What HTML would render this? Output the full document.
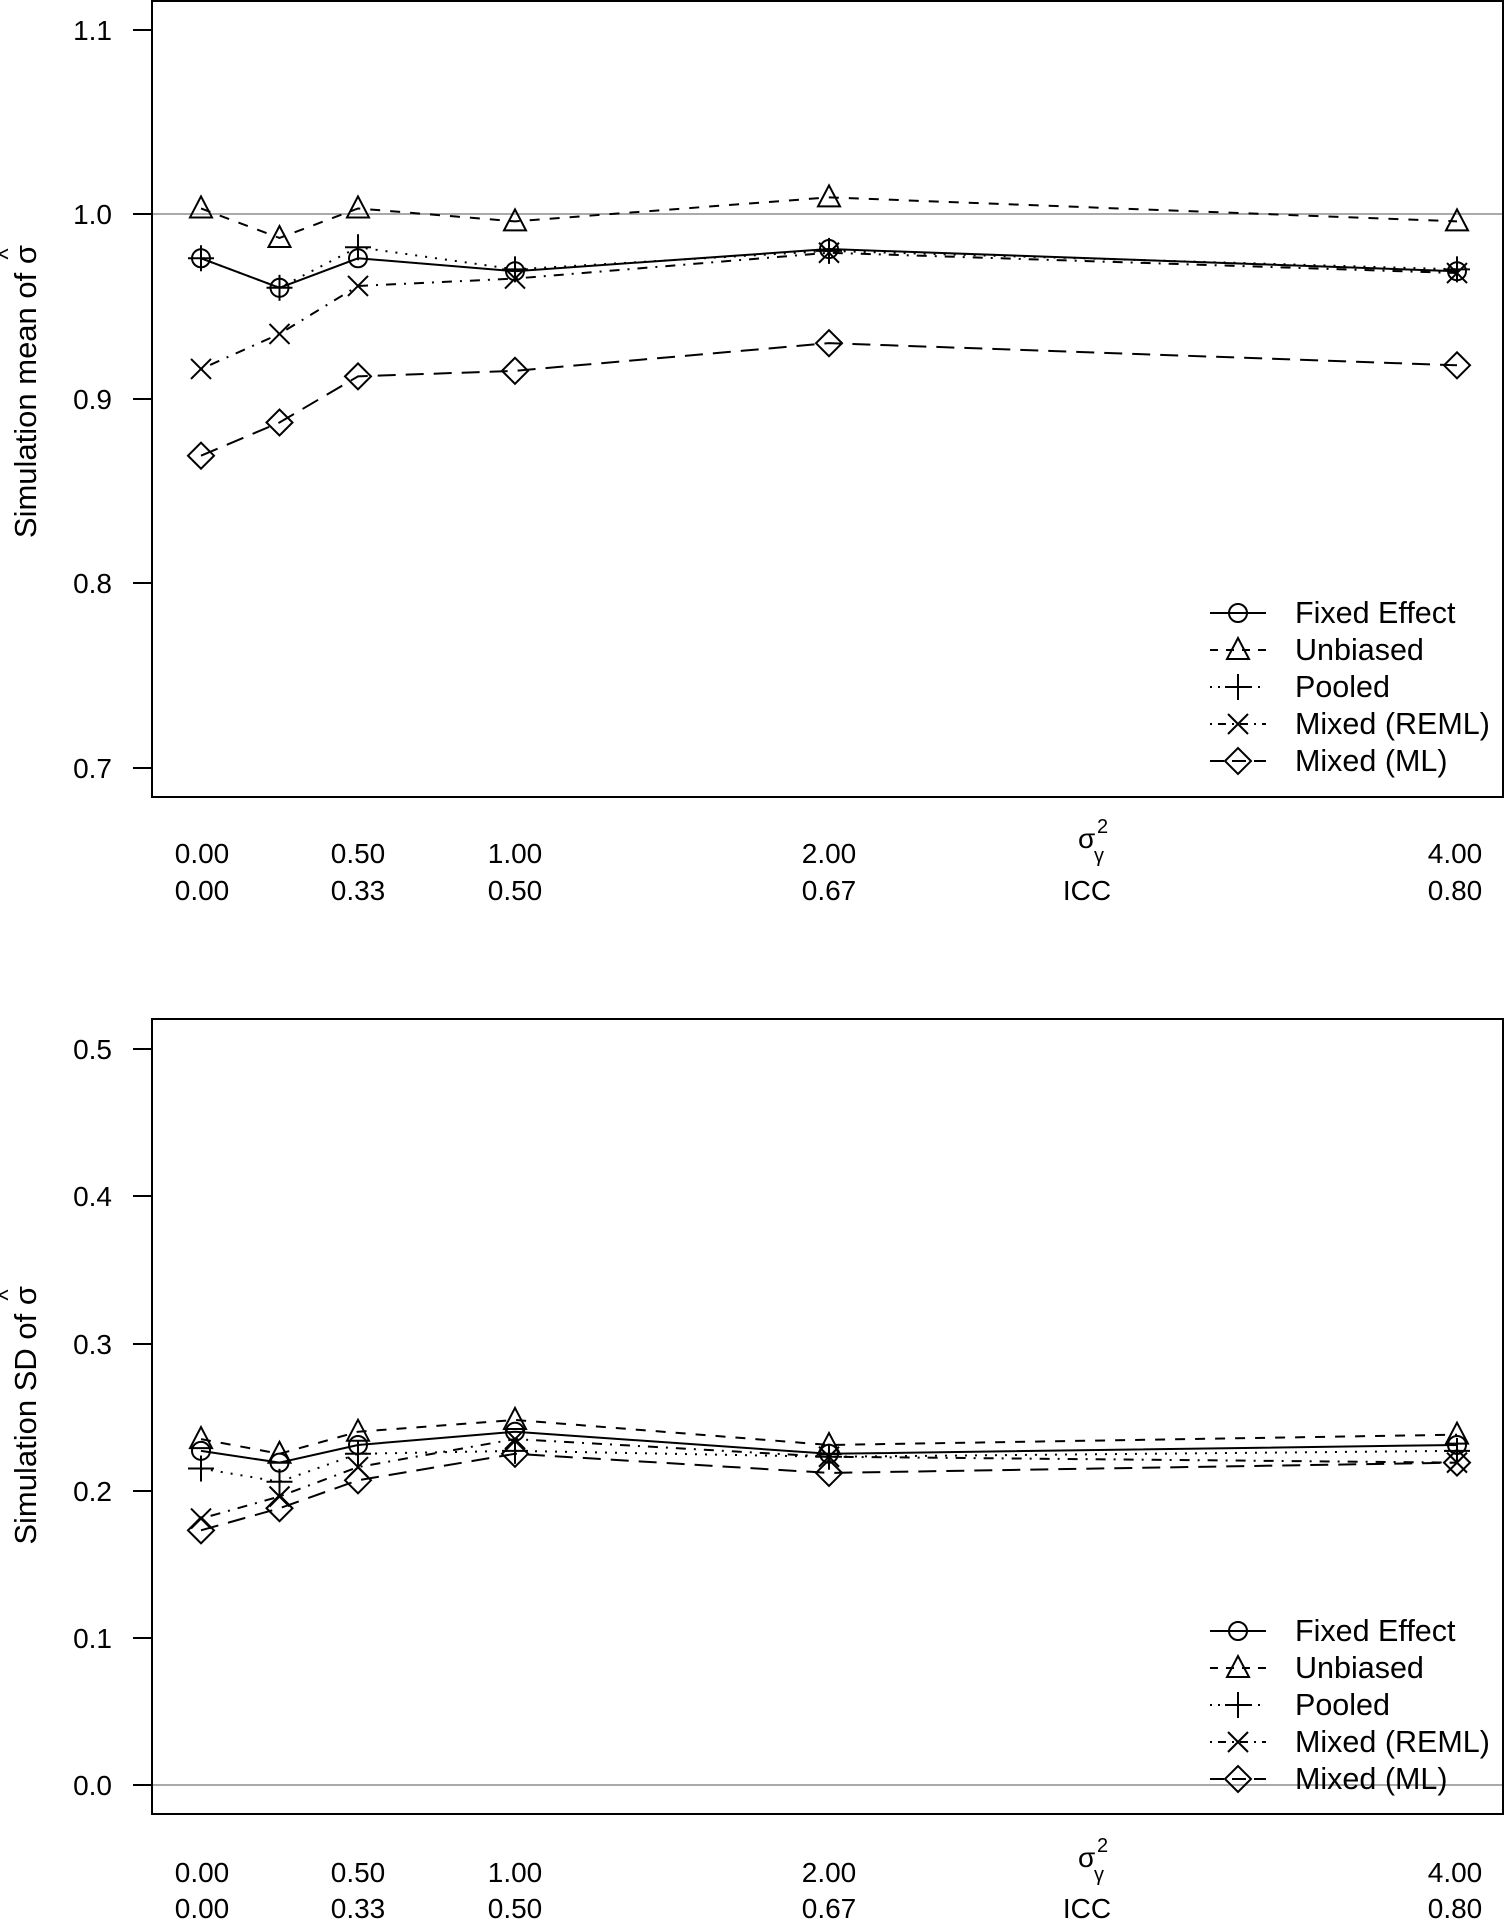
<!DOCTYPE html>
<html><head><meta charset="utf-8"><style>
body{margin:0;background:#fff}
svg{display:block}
text{font-family:"Liberation Sans",sans-serif;fill:#000}
</style></head><body>
<svg id="s" width="1505" height="1920" xmlns="http://www.w3.org/2000/svg">
<!-- top panel -->
<line x1="152" y1="214" x2="1503" y2="214" stroke="#aaa" stroke-width="2"/>
<rect x="152" y="1" width="1351" height="796" fill="none" stroke="#000" stroke-width="2"/>
<g stroke="#000" stroke-width="2">
<line x1="133" y1="30" x2="152" y2="30"/><line x1="133" y1="214" x2="152" y2="214"/><line x1="133" y1="399" x2="152" y2="399"/><line x1="133" y1="583" x2="152" y2="583"/><line x1="133" y1="768" x2="152" y2="768"/>
</g>
<g font-size="28" text-anchor="end">
<text x="112" y="40">1.1</text><text x="112" y="224">1.0</text><text x="112" y="409">0.9</text><text x="112" y="593">0.8</text><text x="112" y="778">0.7</text>
</g>
<g transform="translate(36,545) rotate(-90)">
<text x="300" y="0" font-size="31" text-anchor="end">Simulation mean of σ</text>
<text x="291" y="-20" font-size="24" text-anchor="middle">^</text>
</g>
<g font-size="28" text-anchor="middle">
<text x="202" y="863">0.00</text><text x="358" y="863">0.50</text><text x="515" y="863">1.00</text><text x="829" y="863">2.00</text><text x="1455" y="863">4.00</text>
<text x="202" y="900">0.00</text><text x="358" y="900">0.33</text><text x="515" y="900">0.50</text><text x="829" y="900">0.67</text><text x="1455" y="900">0.80</text>
<text x="1087" y="900">ICC</text>
</g>
<text x="1078" y="848" font-size="28">σ</text><text x="1097" y="833" font-size="20">2</text><text x="1094" y="862" font-size="20">γ</text>
<g font-size="30.5">
<text x="1295" y="623">Fixed Effect</text><text x="1295" y="660">Unbiased</text><text x="1295" y="697">Pooled</text><text x="1295" y="734">Mixed (REML)</text><text x="1295" y="771">Mixed (ML)</text>
</g>
<!-- bottom panel -->
<line x1="152" y1="1785" x2="1503" y2="1785" stroke="#aaa" stroke-width="2"/>
<rect x="152" y="1019" width="1351" height="795" fill="none" stroke="#000" stroke-width="2"/>
<g stroke="#000" stroke-width="2">
<line x1="133" y1="1049" x2="152" y2="1049"/><line x1="133" y1="1196" x2="152" y2="1196"/><line x1="133" y1="1344" x2="152" y2="1344"/><line x1="133" y1="1491" x2="152" y2="1491"/><line x1="133" y1="1638" x2="152" y2="1638"/><line x1="133" y1="1785" x2="152" y2="1785"/>
</g>
<g font-size="28" text-anchor="end">
<text x="112" y="1059">0.5</text><text x="112" y="1206">0.4</text><text x="112" y="1354">0.3</text><text x="112" y="1501">0.2</text><text x="112" y="1648">0.1</text><text x="112" y="1795">0.0</text>
</g>
<g transform="translate(36,1545) rotate(-90)">
<text x="259" y="0" font-size="31" text-anchor="end">Simulation SD of σ</text>
<text x="250" y="-20" font-size="24" text-anchor="middle">^</text>
</g>
<g font-size="28" text-anchor="middle">
<text x="202" y="1882">0.00</text><text x="358" y="1882">0.50</text><text x="515" y="1882">1.00</text><text x="829" y="1882">2.00</text><text x="1455" y="1882">4.00</text>
<text x="202" y="1918">0.00</text><text x="358" y="1918">0.33</text><text x="515" y="1918">0.50</text><text x="829" y="1918">0.67</text><text x="1455" y="1918">0.80</text>
<text x="1087" y="1918">ICC</text>
</g>
<text x="1078" y="1867" font-size="28">σ</text><text x="1097" y="1852" font-size="20">2</text><text x="1094" y="1881" font-size="20">γ</text>
<g font-size="30.5">
<text x="1295" y="1641">Fixed Effect</text><text x="1295" y="1678">Unbiased</text><text x="1295" y="1715">Pooled</text><text x="1295" y="1752">Mixed (REML)</text><text x="1295" y="1789">Mixed (ML)</text>
</g>
<g id="dyn"></g>
</svg>
<script>
var NS="http://www.w3.org/2000/svg",g=document.getElementById("dyn");
function el(t,a){var e=document.createElementNS(NS,t);for(var k in a)e.setAttribute(k,a[k]);e.setAttribute("stroke","#000");e.setAttribute("stroke-width","2");e.setAttribute("fill","none");g.appendChild(e);return e;}
var xs=[0,0.25,0.5,1,2,4].map(function(v){return 201+314*v;});
var dash=["","10,10","2,8","2,8,10,8","18,10"];
function mk(t,x,y){var r=9;
 if(t==0)el("circle",{cx:x,cy:y,r:r});
 if(t==1)el("polygon",{points:(x-11)+","+(y+9)+" "+(x+11)+","+(y+9)+" "+x+","+(y-12)});
 if(t==2){el("line",{x1:x-13,y1:y,x2:x+13,y2:y});el("line",{x1:x,y1:y-13,x2:x,y2:y+13});}
 if(t==3){el("line",{x1:x-10,y1:y-10,x2:x+10,y2:y+10});el("line",{x1:x-10,y1:y+10,x2:x+10,y2:y-10});}
 if(t==4)el("polygon",{points:(x-13)+","+y+" "+x+","+(y-13)+" "+(x+13)+","+y+" "+x+","+(y+13)});
}
function series(data,f){data.forEach(function(d,t){
 var pts=d.map(function(v,i){return xs[i]+","+f(v);}).join(" ");
 var a={points:pts};if(dash[t])a["stroke-dasharray"]=dash[t];el("polyline",a);
 d.forEach(function(v,i){mk(t,xs[i],f(v));});});}
series([[0.976,0.960,0.976,0.969,0.981,0.969],[1.003,0.987,1.003,0.996,1.009,0.996],[0.976,0.960,0.982,0.970,0.980,0.970],[0.916,0.935,0.961,0.965,0.979,0.968],[0.869,0.887,0.912,0.915,0.930,0.918]],function(v){return 214-(v-1)*1845;});
series([[0.227,0.219,0.231,0.240,0.225,0.231],[0.235,0.225,0.240,0.248,0.231,0.238],[0.215,0.206,0.225,0.227,0.223,0.227],[0.181,0.196,0.216,0.235,0.223,0.219],[0.173,0.188,0.207,0.225,0.212,0.219]],function(v){return 1785-v*1472;});
function leg(y0){for(var t=0;t<5;t++){var y=y0+37*t,a={x1:1210,y1:y,x2:1266,y2:y};if(dash[t])a["stroke-dasharray"]=["","8,8","2,6","2,6,8,6","14,8"][t];el("line",a);mk(t,1238,y);}}
leg(613);leg(1631);
</script>
</body></html>
